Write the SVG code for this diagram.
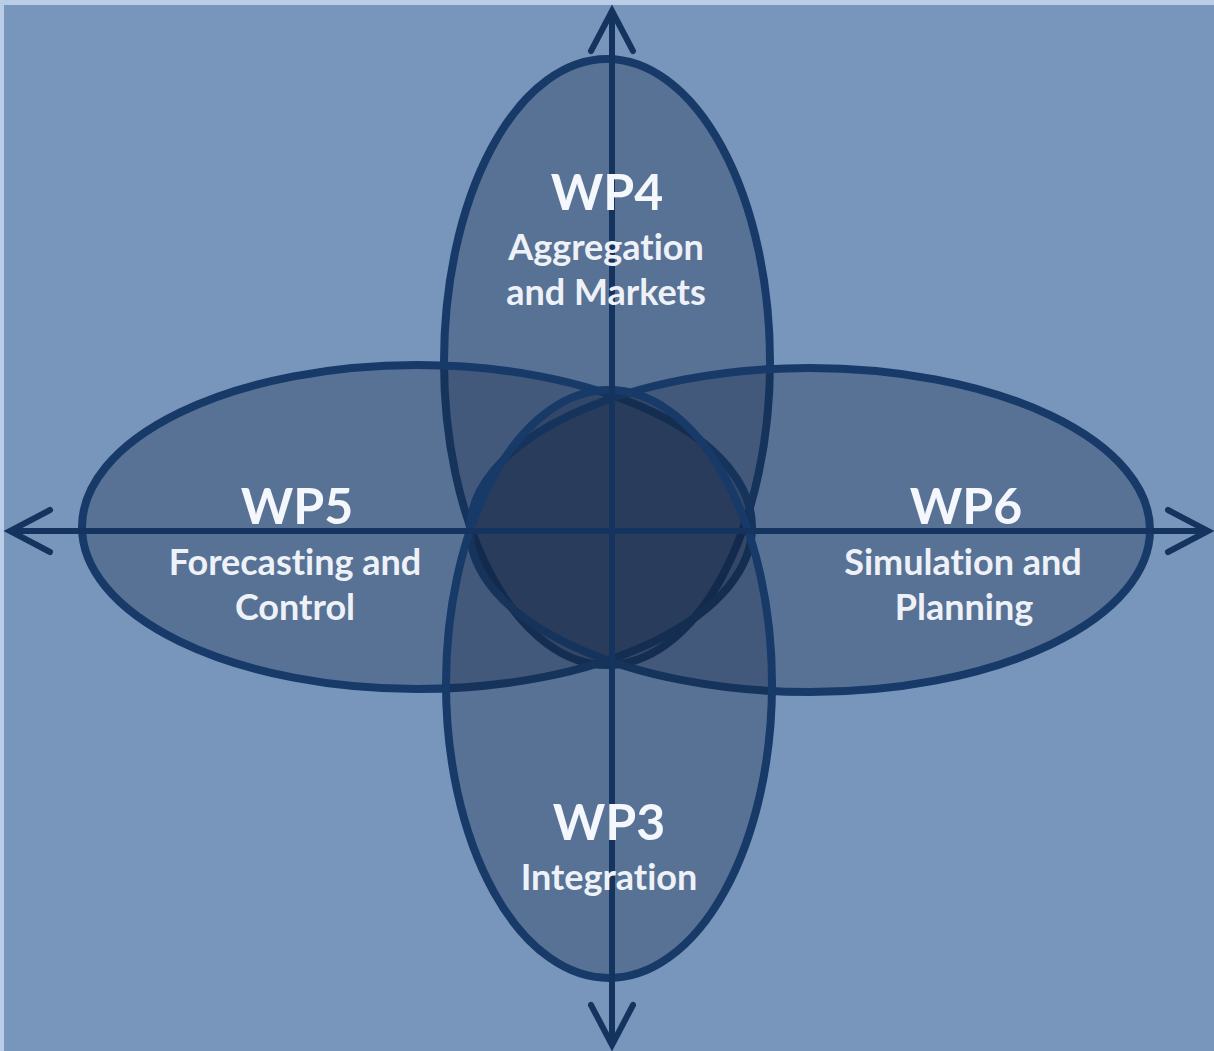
<svg xmlns="http://www.w3.org/2000/svg" width="1214" height="1051" viewBox="0 0 1214 1051">
  <style>
    .lobe { fill: #14243f; fill-opacity: 0.31; stroke: #173a68; stroke-width: 8; }
    .axis { fill: none; stroke: #14335e; stroke-width: 6; }
    .head { fill: none; stroke: #14335e; stroke-width: 6; stroke-linecap: round; stroke-linejoin: miter; }
    text { font-family: Lato, "Open Sans", "Liberation Sans", sans-serif; font-weight: bold; text-anchor: middle; font-variant-ligatures: none; font-feature-settings: "liga" 0, "clig" 0; }
    .title { font-size: 50px; fill: #f4f7fb; }
    .sub { font-size: 36px; fill: #eef2f8; }
  </style>
  <defs>
    <marker id="chevron" viewBox="-50 -28 56 56" refX="0" refY="0" markerWidth="56" markerHeight="56" markerUnits="userSpaceOnUse" orient="auto-start-reverse" overflow="visible">
      <path class="head" d="M -40 -21 L 0 0 L -40 21"/>
    </marker>
  </defs>

  <!-- frame and background -->
  <rect x="0" y="0" width="1214" height="1051" fill="#b9cde6"/>
  <rect x="4" y="5" width="1210" height="1046" fill="#7895bb"/>

  <!-- work package lobes -->
  <g id="wp4">
    <ellipse class="lobe" cx="607" cy="362" rx="163" ry="303"/>
  </g>
  <g id="wp5">
    <ellipse class="lobe" cx="417" cy="527" rx="335" ry="162"/>
  </g>
  <g id="wp6">
    <ellipse class="lobe" cx="810" cy="530" rx="340" ry="162"/>
  </g>
  <g id="wp3">
    <ellipse class="lobe" cx="609" cy="684" rx="163" ry="294"/>
  </g>

  <!-- axes -->
  <g id="connectors">
    <line class="axis" x1="10" y1="531" x2="1208" y2="531" marker-start="url(#chevron)" marker-end="url(#chevron)"/>
    <line class="axis" x1="612" y1="11" x2="612" y2="1045" marker-start="url(#chevron)" marker-end="url(#chevron)"/>
  </g>

  <!-- labels -->
  <g id="wp4-label">
    <text class="title" x="607" y="210">WP4</text>
    <text class="sub" x="606" y="260">Aggregation</text>
    <text class="sub" x="606" y="305">and Markets</text>
  </g>
  <g id="wp5-label">
    <text class="title" x="297" y="524">WP5</text>
    <text class="sub" x="295" y="575">Forecasting and</text>
    <text class="sub" x="295" y="620">Control</text>
  </g>
  <g id="wp6-label">
    <text class="title" x="966" y="524">WP6</text>
    <text class="sub" x="963" y="575">Simulation and</text>
    <text class="sub" x="964" y="620">Planning</text>
  </g>
  <g id="wp3-label">
    <text class="title" x="609" y="840">WP3</text>
    <text class="sub" x="609" y="890">Integration</text>
  </g>
</svg>
